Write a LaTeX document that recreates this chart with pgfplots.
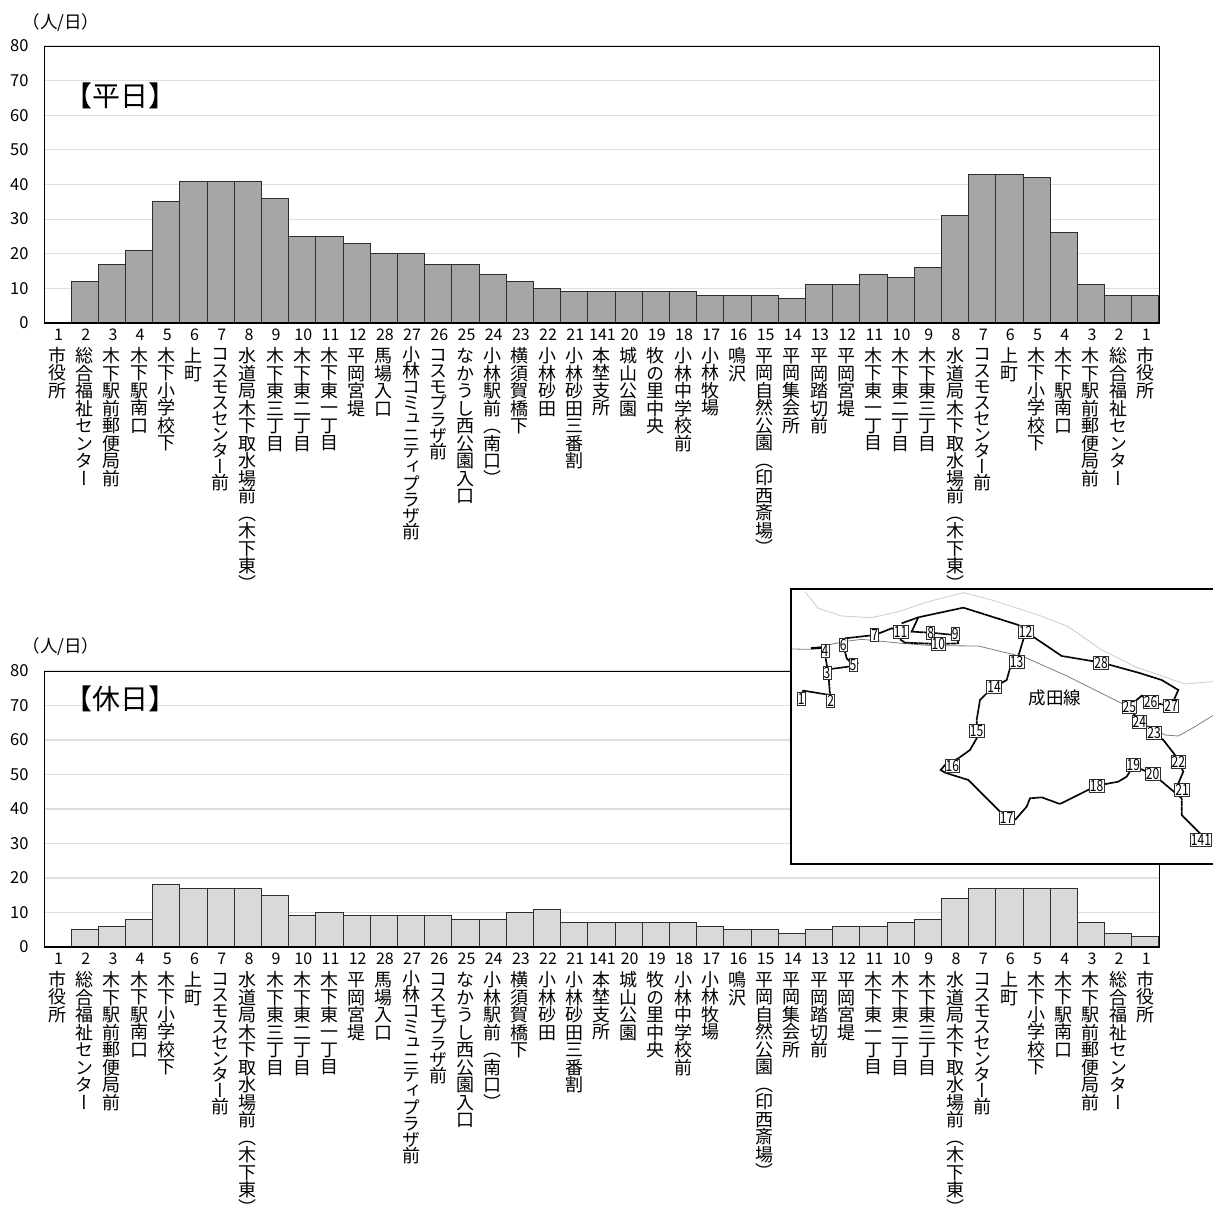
\documentclass[border=0pt]{standalone}
\usepackage{fontspec}
\usepackage{pgfplots}
\usepackage{pgfplotstable}
\pgfplotsset{compat=1.18}
\setmainfont{Noto Sans CJK JP}
\newfontfamily\vcjk[RawFeature=+vert]{Noto Sans CJK JP}
\definecolor{wkd}{HTML}{A6A6A6}
\definecolor{wke}{HTML}{D9D9D9}
\definecolor{edge}{HTML}{2E2E2E}
\definecolor{gridc}{HTML}{DEDEDE}
\makeatletter
\def\vend{\vend}
\def\vloop#1{\ifx\vend#1\else\hbox to 30pt{\hss#1\hss}\expandafter\vloop\fi}
\newcommand\V[3][17.5]{\vtop{\hsize=30pt\lineskip=0pt\lineskiplimit=-100pt
  \hbox to 30pt{\hss\kern2pt\fontsize{16}{17}\selectfont #2\hss}\vskip 4.3pt
  \fontsize{18}{#1}\vcjk\selectfont\lineskip=0pt\lineskiplimit=-100pt\vloop#3\vend}}
\makeatother
\pgfplotstableread{
i v w
0 0 0
1 12 5
2 17 6
3 21 8
4 35 18
5 41 17
6 41 17
7 41 17
8 36 15
9 25 9
10 25 10
11 23 9
12 20 9
13 20 9
14 17 9
15 17 8
16 14 8
17 12 10
18 10 11
19 9 7
20 9 7
21 9 7
22 9 7
23 9 7
24 8 6
25 8 5
26 8 5
27 7 4
28 11 5
29 11 6
30 14 6
31 13 7
32 16 8
33 31 14
34 43 17
35 43 17
36 42 17
37 26 17
38 11 7
39 8 4
40 8 3
}\ridership
\pgfplotstableread{
x y label
49 358 1
137 363 2
126 278 3
120 213 4
204 255 5
175 195 6
269 166 7
437 160 8
511 163 9
460 192 10
347 155 11
722 155 12
695 245 13
627 320 14
575 452 15
502 557 16
665 715 17
935 617 18
1045 556 19
1103 582 20
1191 630 21
1180 545 22
1107 460 23
1063 425 24
1033 382 25
1097 366 26
1158 377 27
948 250 28
1248 780 141
}\stops
\pgfplotsset{
 busaxis/.style={
  scale only axis, width=1115pt, height=277pt,
  xmin=-0.5, xmax=40.5, ymin=0, ymax=80,
  ytick={0,10,...,80},
  xtick={0,...,40},
  tick style={draw=none},
  ymajorgrids, grid style={gridc, line width=1.1pt},
  axis line style={black, line width=0.85pt},
  /pgf/number format/assume math mode=true,
  yticklabel style={font=\fontsize{16.5}{18}\selectfont, anchor=east, xshift=-12pt},
  xticklabel style={anchor=north, inner sep=0pt, yshift=-6pt},
  xticklabels={
   \V{1}{市役所},\V{2}{総合福祉センター},\V{3}{木下駅前郵便局前},\V{4}{木下駅南口},\V{5}{木下小学校下},\V{6}{上町},\V[16.1]{7}{コスモスセンター前},\V{8}{水道局木下取水場前（木下東）},\V{9}{木下東三丁目},\V{10}{木下東二丁目},\V{11}{木下東一丁目},\V{12}{平岡宮堤},\V{28}{馬場入口},\V[16.1]{27}{小林コミュニティプラザ前},\V[16.2]{26}{コスモプラザ前},\V{25}{なかうし西公園入口},\V{24}{小林駅前（南口）},\V{23}{横須賀橋下},\V{22}{小林砂田},\V{21}{小林砂田三番割},\V{141}{本埜支所},\V{20}{城山公園},\V{19}{牧の里中央},\V{18}{小林中学校前},\V{17}{小林牧場},\V{16}{鳴沢},\V{15}{平岡自然公園（印西斎場）},\V{14}{平岡集会所},\V{13}{平岡踏切前},\V{12}{平岡宮堤},\V{11}{木下東一丁目},\V{10}{木下東二丁目},\V{9}{木下東三丁目},\V{8}{水道局木下取水場前（木下東）},\V[16.1]{7}{コスモスセンター前},\V{6}{上町},\V{5}{木下小学校下},\V{4}{木下駅南口},\V{3}{木下駅前郵便局前},\V{2}{総合福祉センター},\V{1}{市役所}},
 },
 bars/.style={ybar, bar width=1, draw=edge, line width=1pt},
 rt/.style={black, line width=1.7pt, no markers, dash pattern=on 1.8pt off 0.35pt},
}
\begin{document}
\begin{tikzpicture}[x=1pt,y=1pt]
\useasboundingbox (0,0) rectangle (1213,1209);
% weekday
\begin{axis}[busaxis, at={(44pt,886pt)}, anchor=south west]
\addplot[bars, fill=wkd] table[x=i,y=v] {\ridership};
\draw[black, line width=2.2pt] (axis cs:-0.5,0)--(axis cs:40.5,0);
\node[anchor=west, font=\fontsize{28}{30}\selectfont, inner sep=0pt] at (axis cs:0.25,65.5) {【平日】};
\end{axis}
\node[anchor=center, font=\fontsize{17.5}{19}\selectfont, inner sep=0pt] at (61,1186) {（人/日）};
% weekend
\begin{axis}[busaxis, at={(44pt,262pt)}, anchor=south west, height=276pt]
\addplot[bars, fill=wke] table[x=i,y=w] {\ridership};
\draw[black, line width=2.2pt] (axis cs:-0.5,0)--(axis cs:40.5,0);
\node[anchor=west, font=\fontsize{28}{30}\selectfont, inner sep=0pt] at (axis cs:0.25,72) {【休日】};
\end{axis}
\node[anchor=center, font=\fontsize{17.5}{19}\selectfont, inner sep=0pt] at (61,562) {（人/日）};
% map inset
\begin{axis}[at={(791pt,345pt)}, anchor=south west, scale only axis, width=428pt, height=275pt,
  xmin=18, xmax=1302, ymin=27, ymax=852, y dir=reverse,
  xtick=\empty, ytick=\empty, axis background/.style={fill=white},
  axis line style={black, line width=2pt}, clip=true]
\addplot[color=black!20, line width=0.8pt, no markers] coordinates {(60,35)(100,85)(170,108)(260,113)(340,95)(430,65)(535,38)(620,60)(760,105)(850,140)(950,210)(1050,260)(1200,312)(1302,303)};
\addplot[color=black!50, line width=0.8pt, no markers] coordinates {(20,207)(75,208)(120,197)(175,185)(230,178)(350,190)(440,197)(580,198)(720,232)(850,290)(1010,370)(1090,440)(1140,465)(1180,468)(1230,440)(1302,395)};
\addplot[black, line width=2.4pt, no markers] coordinates {(78,205)(110,203)};
\addplot[rt] coordinates {(50,340)(55,332)(135,345)(130,280)(122,235)};
\addplot[rt] coordinates {(130,268)(205,258)(220,248)};
\addplot[rt] coordinates {(205,255)(185,235)(175,195)(180,175)(270,165)(320,145)(345,155)};
\addplot[rt] coordinates {(350,130)(400,112)(535,83)(700,135)(722,155)(830,228)(950,248)(1060,278)(1130,300)(1180,330)(1160,375)};
\addplot[rt] coordinates {(400,112)(380,155)(435,158)(510,165)};
\addplot[rt] coordinates {(345,178)(360,188)(460,192)(520,190)(515,165)};
\addplot[rt] coordinates {(722,155)(695,245)(675,265)(665,300)(630,320)(605,340)(585,360)(575,420)(575,475)(555,510)(520,535)(480,555)(467,570)(480,578)(550,600)(665,715)(690,720)(725,680)(735,655)(770,652)(825,672)(935,617)(1000,605)(1025,590)(1045,558)(1105,583)(1190,655)(1190,705)(1245,760)};
\addplot[rt] coordinates {(1185,650)(1180,610)(1195,575)(1180,545)(1170,525)(1135,480)(1107,460)(1063,425)(1033,382)(1055,360)(1070,347)(1097,367)(1158,378)};
\addplot[only marks, mark=none, point meta=explicit symbolic,
  nodes near coords={\scalebox{0.78}[1]{\pgfplotspointmeta}},
  every node near coord/.style={anchor=center, draw=edge, fill=white, line width=0.9pt,
    inner xsep=0.6pt, inner ysep=0.4pt, font=\fontsize{15.5}{15}\selectfont, text height=11.5pt, text depth=0.5pt}]
  table[x=x,y=y,meta=label] {\stops};
\node[font=\fontsize{17.5}{18}\selectfont, inner sep=0pt] at (axis cs:810,355) {成田線};
\end{axis}
\end{tikzpicture}
\end{document}
